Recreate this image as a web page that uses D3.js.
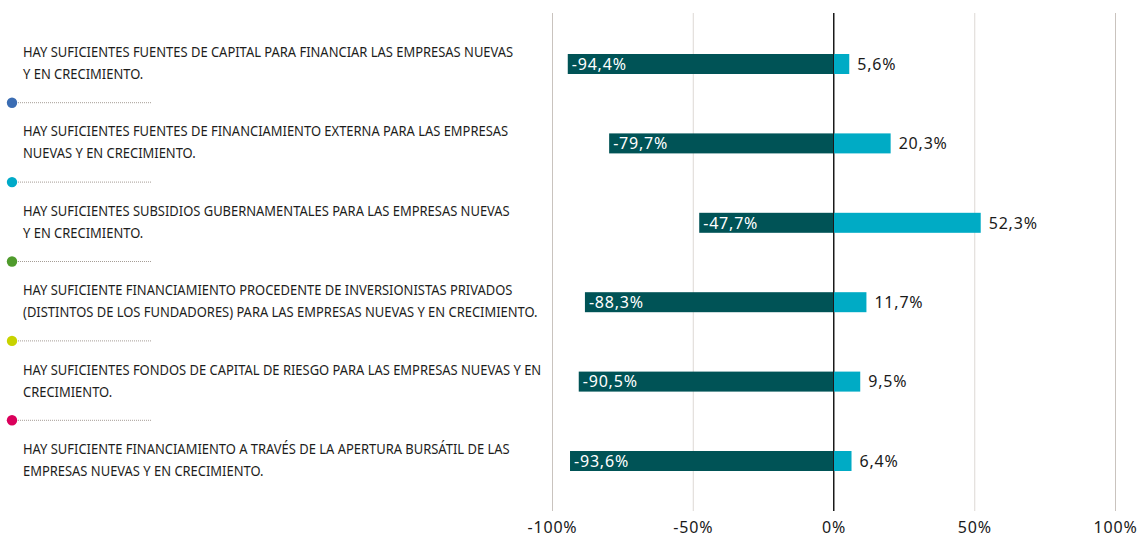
<!DOCTYPE html>
<html lang="es">
<head>
<meta charset="utf-8">
<script src="https://cdn.jsdelivr.net/npm/d3@7"></script>
<style>
  html, body { margin: 0; padding: 0; background: #ffffff; }
  svg { display: block; }
  text { font-family: "Noto Sans", "Open Sans", sans-serif; }
</style>
</head>
<body>
<svg id="chart" width="1144" height="536"></svg>
<script>
// Statements, each split into its two printed lines
const statements = [
  ["HAY SUFICIENTES FUENTES DE CAPITAL PARA FINANCIAR LAS EMPRESAS NUEVAS", "Y EN CRECIMIENTO."],
  ["HAY SUFICIENTES FUENTES DE FINANCIAMIENTO EXTERNA PARA LAS EMPRESAS", "NUEVAS Y EN CRECIMIENTO."],
  ["HAY SUFICIENTES SUBSIDIOS GUBERNAMENTALES PARA LAS EMPRESAS NUEVAS", "Y EN CRECIMIENTO."],
  ["HAY SUFICIENTE FINANCIAMIENTO PROCEDENTE DE INVERSIONISTAS PRIVADOS", "(DISTINTOS DE LOS FUNDADORES) PARA LAS EMPRESAS NUEVAS Y EN CRECIMIENTO."],
  ["HAY SUFICIENTES FONDOS DE CAPITAL DE RIESGO PARA LAS EMPRESAS NUEVAS Y EN", "CRECIMIENTO."],
  ["HAY SUFICIENTE FINANCIAMIENTO A TRAVÉS DE LA APERTURA BURSÁTIL DE LAS", "EMPRESAS NUEVAS Y EN CRECIMIENTO."]
];
// Share disagreeing (negative) and agreeing (positive), in percent
const disagree = [-94.4, -79.7, -47.7, -88.3, -90.5, -93.6];
const agree = [5.6, 20.3, 52.3, 11.7, 9.5, 6.4];
// Axis ticks
const tickValues = [-100, -50, 0, 50, 100];
const tickLabels = ["-100%", "-50%", "0%", "50%", "100%"];
// Separator bullet colours
const separatorColors = ["#3b6db3", "#00aac8", "#4f9b2c", "#c8d300", "#da005b"];

// Spanish decimal comma, plain hyphen for negatives
const fmt = v => (v < 0 ? "-" : "") + Math.abs(v).toFixed(1).replace(".", ",") + "%";

const svg = d3.select("#chart");

const x = d3.scaleLinear().domain([-100, 100]).range([552, 1115]);
const y = d3.scalePoint().domain(d3.range(statements.length)).range([64, 461]);
const barH = 20;
const gridTop = 13, gridBottom = 511;
const valueFont = { size: "16px", spacing: "0.8px" };

// Axis with gridlines
const axis = d3.axisBottom(x)
  .tickValues(tickValues)
  .tickFormat((d, i) => tickLabels[i])
  .tickSize(-(gridBottom - gridTop))
  .tickPadding(10.5);

const gAxis = svg.append("g")
  .attr("transform", `translate(0,${gridBottom})`)
  .call(axis);
gAxis.select(".domain").remove();
gAxis.selectAll(".tick line")
  .attr("stroke", d => d === 0 ? "#1a1a1a" : (Math.abs(d) === 100 ? "#c9c3be" : "#ddd8d4"))
  .attr("stroke-width", 1);
gAxis.selectAll(".tick text")
  .attr("fill", "#1a1a1a")
  .style("font-size", valueFont.size)
  .style("letter-spacing", valueFont.spacing)
  .style("font-family", "'Noto Sans', sans-serif");

// Bars
const rows = svg.append("g").selectAll("g")
  .data(statements.map((s, i) => ({ i, neg: disagree[i], pos: agree[i] })))
  .join("g");

rows.append("rect")
  .attr("x", d => x(d.neg))
  .attr("y", d => y(d.i) - barH / 2)
  .attr("width", d => x(0) - x(d.neg))
  .attr("height", barH)
  .attr("fill", "#005356");

rows.append("rect")
  .attr("x", x(0))
  .attr("y", d => y(d.i) - barH / 2)
  .attr("width", d => x(d.pos) - x(0))
  .attr("height", barH)
  .attr("fill", "#00abc5");

// Zero line above the bars
svg.append("line")
  .attr("x1", x(0)).attr("x2", x(0))
  .attr("y1", gridTop).attr("y2", gridBottom)
  .attr("stroke", "#1a1a1a").attr("stroke-width", 1);

rows.append("text")
  .attr("x", d => x(d.neg) + 4)
  .attr("y", d => y(d.i))
  .attr("dy", "0.36em")
  .attr("fill", "#ffffff")
  .style("font-size", valueFont.size)
  .style("letter-spacing", valueFont.spacing)
  .text(d => fmt(d.neg));

rows.append("text")
  .attr("x", d => x(d.pos) + 8)
  .attr("y", d => y(d.i))
  .attr("dy", "0.36em")
  .attr("fill", "#1a1a1a")
  .style("font-size", valueFont.size)
  .style("letter-spacing", valueFont.spacing)
  .text(d => fmt(d.pos));

// Statement labels
const gLabels = svg.append("g");
const labelTexts = gLabels.selectAll("text")
  .data(statements)
  .join("text")
  .attr("fill", "#1d1d1b")
  .style("font-size", "14px");
labelTexts.each(function (lines, i) {
  const t = d3.select(this);
  lines.forEach((ln, j) => {
    t.append("tspan")
      .attr("x", 0)
      .attr("y", y(i) - 7 + j * 22)
      .text(ln);
  });
});
// Fit the widest label line to the label column
let widest = 0;
gLabels.selectAll("tspan").each(function () {
  widest = Math.max(widest, this.getComputedTextLength());
});
const labelLeft = 23, labelRight = 542;
const k = (labelRight - labelLeft) / widest;
gLabels.attr("transform", `translate(${labelLeft},0) scale(${k},1)`);

// Dotted separators with coloured bullets between statements
const seps = svg.append("g").selectAll("g")
  .data(separatorColors)
  .join("g")
  .attr("transform", (c, i) => `translate(0,${(y(i) + y(i + 1)) / 2 - 1})`);
seps.append("line")
  .attr("x1", 12).attr("x2", 151)
  .attr("y1", 0).attr("y2", 0)
  .attr("stroke", "#a59d96")
  .attr("stroke-width", 1)
  .attr("stroke-dasharray", "1,1");
seps.append("circle")
  .attr("cx", 12).attr("cy", 0).attr("r", 5.2)
  .attr("fill", c => c);
</script>
</body>
</html>
